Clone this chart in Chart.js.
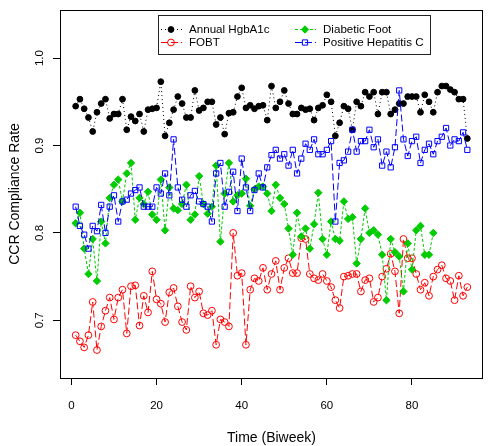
<!DOCTYPE html>
<html><head><meta charset="utf-8">
<script src="https://cdn.jsdelivr.net/npm/chart.js@4/dist/chart.umd.min.js"></script>
<style>html,body{margin:0;padding:0;background:#fff;overflow:hidden}#wrap{width:488px;height:446px;position:relative}</style>
</head><body><div id="wrap"><canvas id="c" width="488" height="446"></canvas></div>
<script>
const hgba1c = [0.945,0.953,0.942,0.932,0.916,0.938,0.948,0.953,0.931,0.936,0.936,0.953,0.918,0.933,0.928,0.936,0.916,0.941,0.942,0.943,
0.973,0.911,0.926,0.941,0.956,0.948,0.932,0.932,0.963,0.940,0.943,0.950,0.950,0.924,0.932,0.913,0.937,0.938,0.956,0.966,
0.943,0.946,0.942,0.945,0.946,0.929,0.968,0.943,0.950,0.963,0.948,0.936,0.936,0.943,0.941,0.942,0.929,0.943,0.946,0.958,
0.950,0.911,0.926,0.945,0.942,0.918,0.950,0.945,0.961,0.956,0.961,0.936,0.961,0.961,0.936,0.941,0.948,0.948,0.956,0.956,
0.956,0.938,0.958,0.950,0.938,0.961,0.968,0.968,0.964,0.961,0.953,0.953,0.908];
const fobt = [0.683,0.676,0.669,0.683,0.721,0.666,0.693,0.711,0.726,0.701,0.726,0.735,0.685,0.739,0.740,0.694,0.728,0.709,0.756,0.724,
0.719,0.698,0.732,0.737,0.716,0.698,0.689,0.739,0.726,0.733,0.708,0.706,0.711,0.672,0.701,0.698,0.693,0.800,0.751,0.754,
0.672,0.735,0.748,0.745,0.760,0.735,0.753,0.768,0.735,0.760,0.771,0.754,0.754,0.794,0.793,0.753,0.748,0.746,0.753,0.745,
0.738,0.723,0.714,0.750,0.751,0.753,0.753,0.733,0.746,0.748,0.721,0.726,0.750,0.759,0.776,0.756,0.708,0.793,0.771,0.771,
0.753,0.735,0.743,0.728,0.750,0.758,0.763,0.748,0.745,0.723,0.751,0.728,0.738];
const diabeticFoot = [0.811,0.823,0.782,0.753,0.793,0.745,0.813,0.788,0.840,0.855,0.861,0.836,0.868,0.880,0.815,0.840,0.833,0.847,0.821,0.815,
0.861,0.803,0.852,0.828,0.826,0.833,0.855,0.815,0.821,0.865,0.833,0.822,0.830,0.877,0.790,0.845,0.880,0.836,0.843,0.845,
0.862,0.831,0.850,0.853,0.853,0.845,0.825,0.855,0.840,0.833,0.805,0.775,0.823,0.796,0.805,0.782,0.810,0.846,0.793,0.775,
0.813,0.793,0.791,0.836,0.816,0.818,0.765,0.793,0.828,0.800,0.803,0.798,0.775,0.723,0.793,0.778,0.773,0.733,0.788,0.758,
0.803,0.808,0.775,0.775,0.800];
const hepatitisC = [0.830,0.808,0.798,0.782,0.808,0.802,0.832,0.800,0.830,0.843,0.813,0.836,0.838,0.845,0.849,0.852,0.830,0.830,0.830,0.852,
0.845,0.868,0.843,0.907,0.852,0.838,0.830,0.843,0.848,0.836,0.833,0.830,0.813,0.868,0.880,0.830,0.847,0.870,0.825,0.885,
0.852,0.825,0.849,0.868,0.852,0.875,0.889,0.895,0.885,0.890,0.877,0.895,0.868,0.885,0.902,0.895,0.907,0.890,0.890,0.895,
0.905,0.813,0.880,0.883,0.893,0.918,0.893,0.905,0.905,0.918,0.898,0.907,0.877,0.893,0.875,0.898,0.963,0.907,0.888,0.905,
0.910,0.880,0.895,0.902,0.890,0.905,0.910,0.920,0.900,0.907,0.905,0.915,0.895];
const seriesNames = ["Annual HgbA1c","FOBT","Diabetic Foot","Positive Hepatitis C"];
const xTicks = [0,20,40,60,80];
const yTicks = [0.7,0.8,0.9,1.0];
const xTitle = "Time (Biweek)";
const yTitle = "CCR Compliance Rate";

const FONT = "'Liberation Sans', Arial, Helvetica, sans-serif";
const toPts = a => a.map((v,i)=>({x:i+1,y:v}));

const styles = [
  {color:'#000000', dash:[1,3], pointStyle:'circle', radius:2.9, fill:true},
  {color:'#ff0000', dash:[7,3], pointStyle:'circle', radius:3.4, fill:false},
  {color:'#00cc00', dash:[3,2], pointStyle:'rectRot', radius:3.7, fill:true},
  {color:'#0000ff', dash:[7,3], pointStyle:'rect', radius:3.7, fill:false}
];
const series = [hgba1c, fobt, diabeticFoot, hepatitisC];
const CLEAR = 'rgba(0,0,0,0)';

const datasets = series.map((arr,k)=>({
  label: seriesNames[k],
  data: toPts(arr),
  borderColor: styles[k].color,
  backgroundColor: styles[k].fill ? styles[k].color : CLEAR,
  borderWidth: 1,
  borderDash: styles[k].dash,
  pointStyle: styles[k].pointStyle,
  pointRadius: styles[k].radius,
  pointBorderWidth: 1,
  pointBorderColor: styles[k].color,
  pointBackgroundColor: styles[k].fill ? styles[k].color : CLEAR,
  tension: 0,
  fill: false,
  order: 4-k
}));

const decor = {
  id:'decor',
  afterDraw(chart){
    const ctx = chart.ctx, a = chart.chartArea;
    const xs = chart.scales.x, ys = chart.scales.y;
    ctx.save();
    ctx.strokeStyle = '#000'; ctx.lineWidth = 1; ctx.setLineDash([]);
    ctx.strokeRect(Math.round(a.left)+0.5, Math.round(a.top)+0.5, Math.round(a.right-a.left)-1, Math.round(a.bottom-a.top));
    ctx.fillStyle = '#000';
    ctx.font = "11.5px " + FONT;
    ctx.textAlign = 'center'; ctx.textBaseline = 'middle';
    yTicks.forEach(v=>{
      const y = ys.getPixelForValue(v);
      ctx.save(); ctx.translate(40, y); ctx.rotate(-Math.PI/2);
      ctx.fillText(v.toFixed(1), 0, 0); ctx.restore();
    });
    xTicks.forEach(v=>{
      ctx.fillText(String(v), xs.getPixelForValue(v), 406);
    });
    ctx.font = "14px " + FONT;
    ctx.fillText(xTitle, (a.left+a.right)/2, 438);
    ctx.save(); ctx.translate(15, (a.top+a.bottom)/2); ctx.rotate(-Math.PI/2);
    ctx.fillText(yTitle, 0, 0); ctx.restore();
    // legend
    const bx=158, by=15, bw=272, bh=39;
    ctx.fillStyle='#fff'; ctx.fillRect(bx,by,bw,bh);
    ctx.strokeStyle='#222'; ctx.strokeRect(bx+0.5,by+0.5,bw,bh);
    const cols=[{lx:161,px:171,tx:189},{lx:295,px:305,tx:323}];
    const rows=[29.5,42.5];
    const place=[[0,0],[0,1],[1,0],[1,1]];
    ctx.font = "11.6px " + FONT; ctx.textAlign='left';
    datasets.forEach((d,k)=>{
      const c=cols[place[k][0]], y=rows[place[k][1]];
      const s=styles[k];
      ctx.strokeStyle=s.color; ctx.setLineDash(s.dash); ctx.lineWidth=1;
      ctx.beginPath(); ctx.moveTo(c.lx,y); ctx.lineTo(c.lx+21,y); ctx.stroke();
      ctx.setLineDash([]);
      ctx.fillStyle = s.fill ? s.color : CLEAR;
      ctx.strokeStyle = s.color;
      Chart.helpers.drawPoint(ctx,{pointStyle:s.pointStyle, radius:s.radius, borderWidth:1}, c.px, y);
      ctx.fillStyle='#000';
      ctx.fillText(d.label, c.tx, y);
    });
    ctx.restore();
  }
};

new Chart(document.getElementById('c'), {
  type:'line',
  data:{datasets},
  options:{
    responsive:false, animation:false, devicePixelRatio:1,
    layout:{padding:{top:10,right:1,left:0,bottom:0}},
    plugins:{legend:{display:false}, tooltip:{enabled:false}},
    scales:{
      x:{type:'linear', min:-2.68, max:96.68,
        afterBuildTicks(s){ s.ticks = xTicks.map(v=>({value:v})); },
        afterFit(s){ s.height = 68; },
        grid:{drawOnChartArea:false, drawTicks:true, tickLength:7, color:'#000', lineWidth:1},
        border:{display:false},
        ticks:{display:false}
      },
      y:{type:'linear', min:0.634, max:1.055,
        afterBuildTicks(s){ s.ticks = yTicks.map(v=>({value:v})); },
        afterFit(s){ s.width = 60; },
        grid:{drawOnChartArea:false, drawTicks:true, tickLength:7, color:'#000', lineWidth:1},
        border:{display:false},
        ticks:{display:false}
      }
    }
  },
  plugins:[decor]
});
</script></body></html>
